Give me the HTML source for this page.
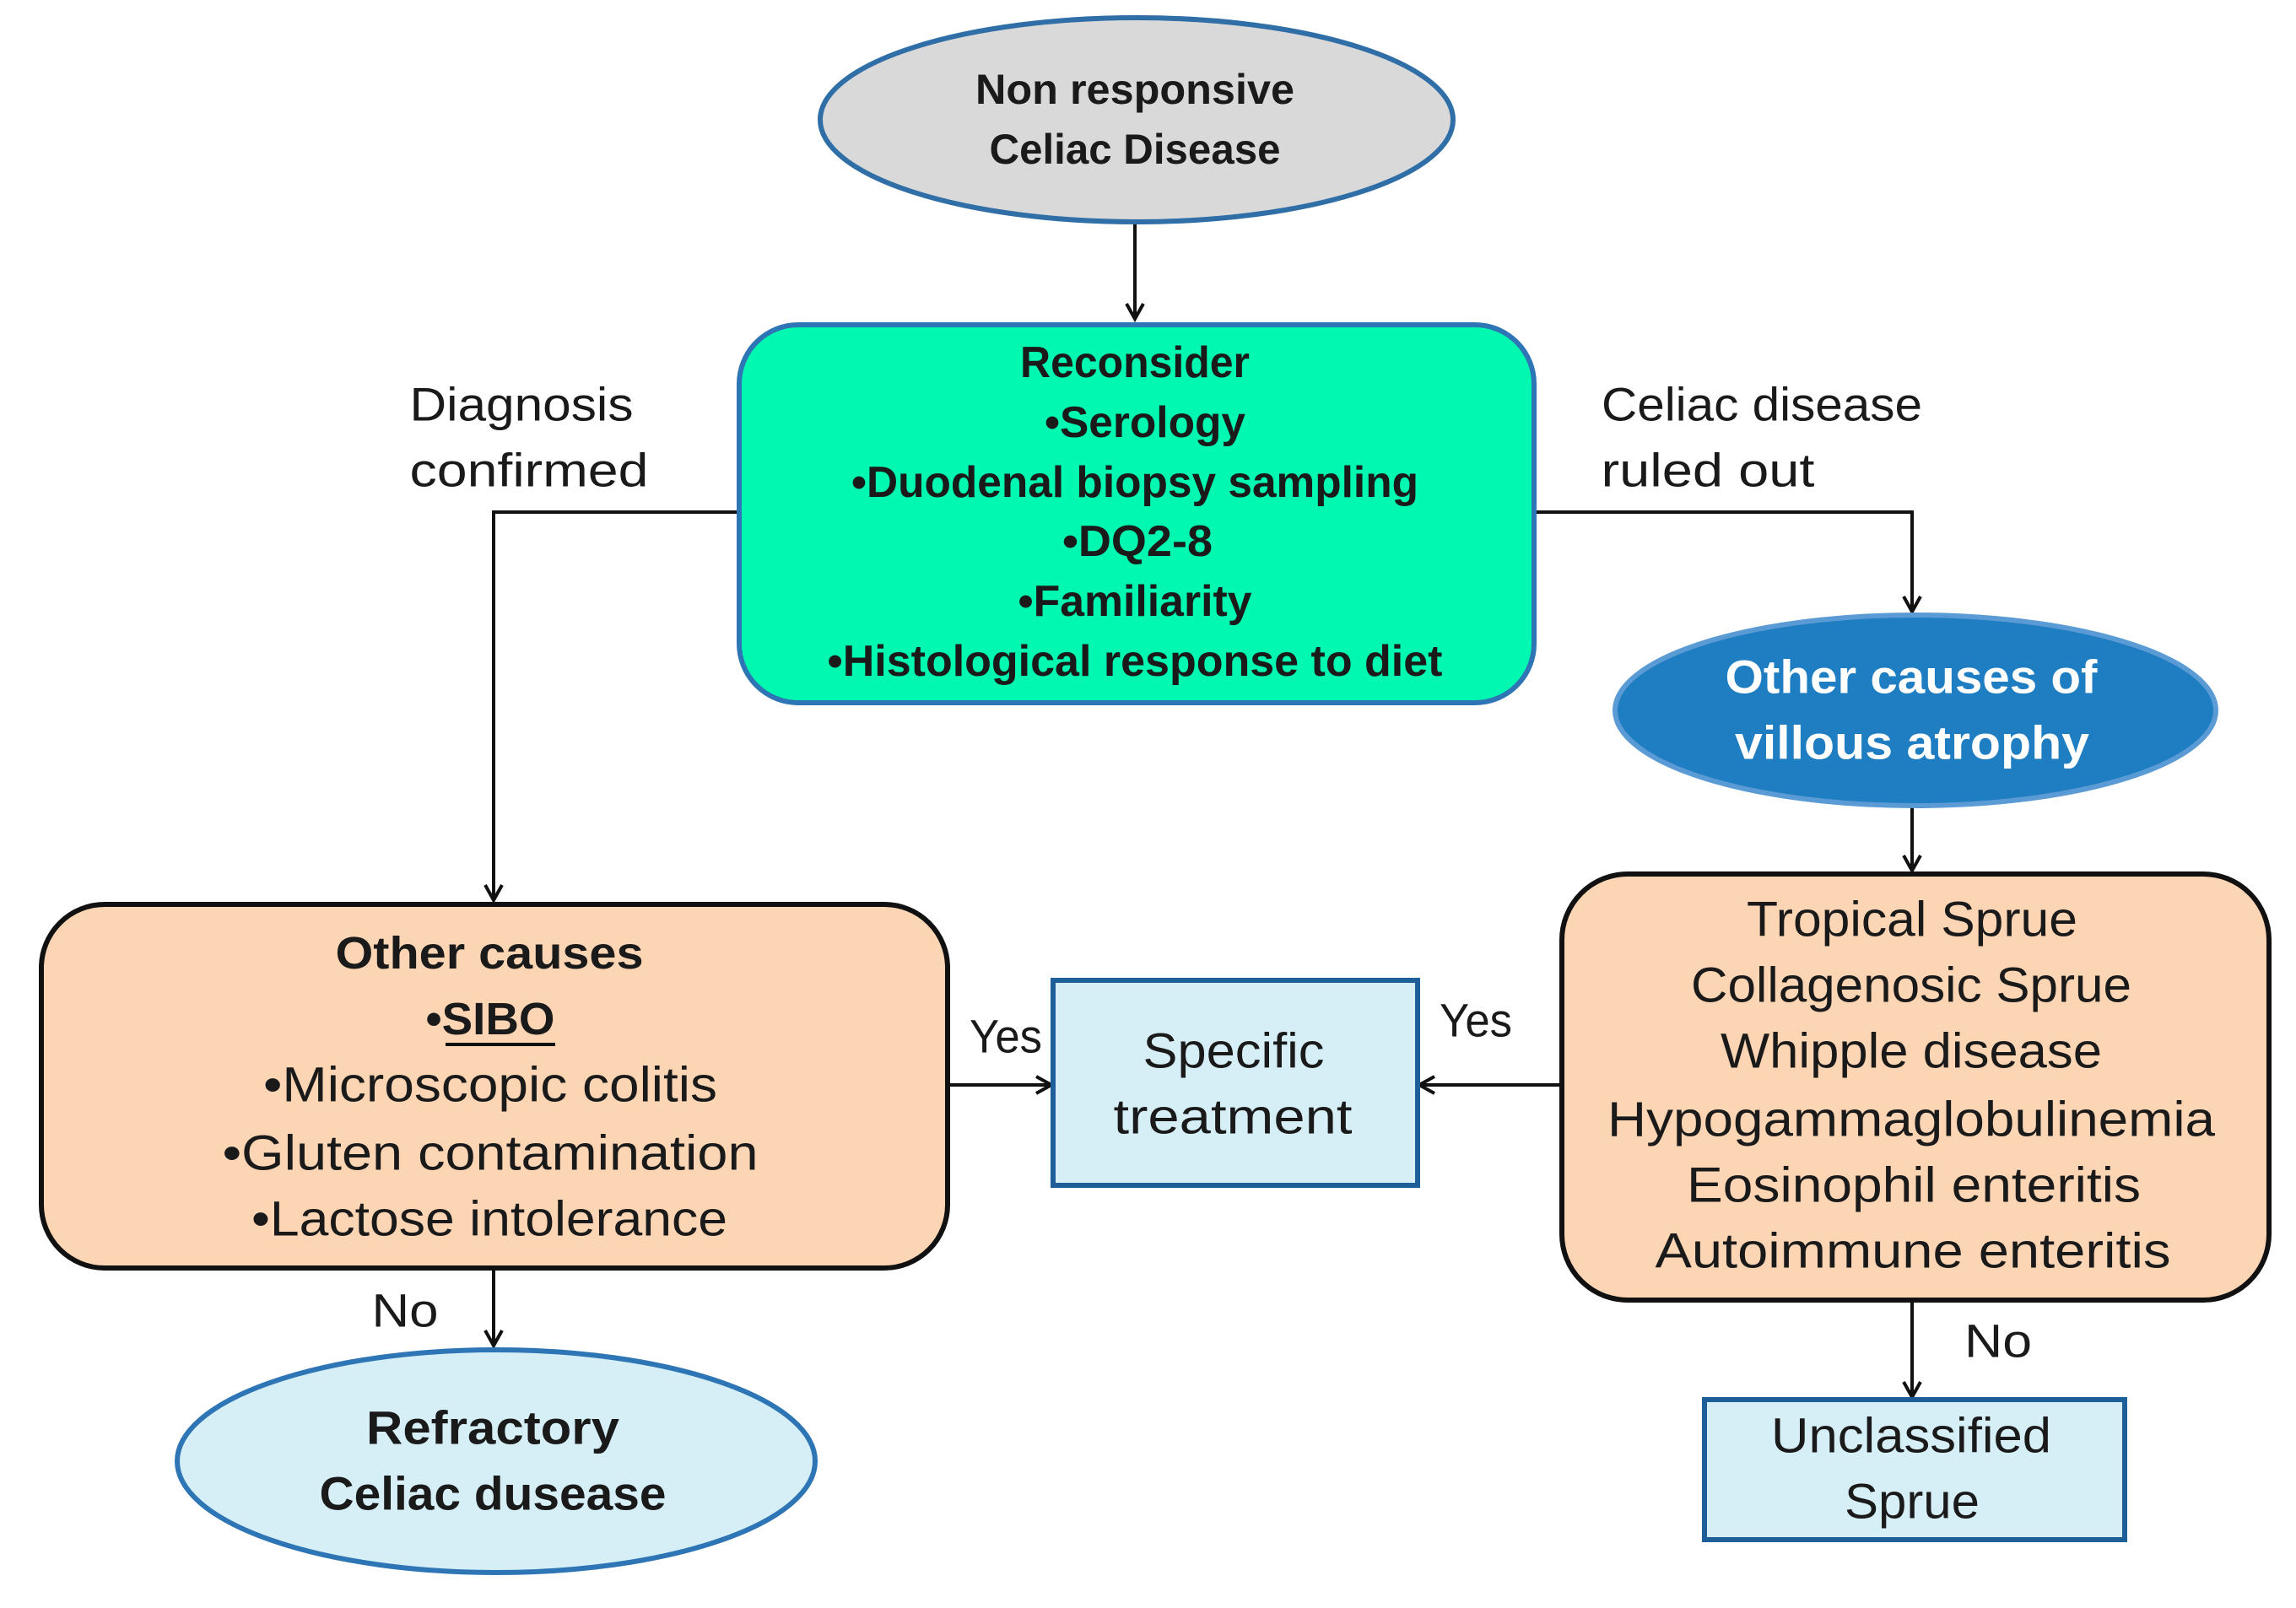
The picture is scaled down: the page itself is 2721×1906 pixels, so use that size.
<!DOCTYPE html>
<html><head><meta charset="utf-8"><style>
html,body{margin:0;padding:0;background:#fff;}
svg{display:block;}
text{font-family:"Liberation Sans",sans-serif;dominant-baseline:central;text-anchor:middle;fill:#1a1a1a;}
.b{font-weight:bold;}
</style></head><body>
<svg width="2721" height="1906" viewBox="0 0 2721 1906" xmlns="http://www.w3.org/2000/svg">
<defs>
<marker id="ah" markerWidth="30" markerHeight="30" refX="20" refY="12" orient="auto" markerUnits="userSpaceOnUse">
<path d="M2,2 L20,12 L2,22" fill="none" stroke="#111" stroke-width="4"/>
</marker>
</defs>
<!-- connectors -->
<g stroke="#111" stroke-width="4" fill="none">
<line x1="1345" y1="264" x2="1345" y2="378" marker-end="url(#ah)"/>
<polyline points="876,607 585,607 585,1067" marker-end="url(#ah)"/>
<polyline points="1818,607 2266,607 2266,725" marker-end="url(#ah)"/>
<line x1="2266" y1="954" x2="2266" y2="1032" marker-end="url(#ah)"/>
<line x1="1123" y1="1286" x2="1246" y2="1286" marker-end="url(#ah)"/>
<line x1="1851" y1="1286" x2="1682" y2="1286" marker-end="url(#ah)"/>
<line x1="585" y1="1503" x2="585" y2="1595" marker-end="url(#ah)"/>
<line x1="2266" y1="1541" x2="2266" y2="1656" marker-end="url(#ah)"/>
</g>
<!-- top ellipse -->
<ellipse cx="1347" cy="142" rx="375" ry="121" fill="#d9d9d9" stroke="#2f6ea6" stroke-width="6"/>
<text class="b" x="1345" y="106" font-size="50" textLength="378" lengthAdjust="spacingAndGlyphs">Non responsive</text>
<text class="b" x="1345" y="177" font-size="50" textLength="345" lengthAdjust="spacingAndGlyphs">Celiac Disease</text>
<!-- green box -->
<rect x="876" y="385" width="942" height="448" rx="70" fill="#00f8b0" stroke="#2e75b6" stroke-width="6"/>
<text class="b" x="1345" y="430" font-size="52" textLength="272" lengthAdjust="spacingAndGlyphs">Reconsider</text>
<text class="b" x="1357" y="501" font-size="52" textLength="238" lengthAdjust="spacingAndGlyphs">•Serology</text>
<text class="b" x="1345" y="572" font-size="52" textLength="672" lengthAdjust="spacingAndGlyphs">•Duodenal biopsy sampling</text>
<text class="b" x="1348" y="642" font-size="52" textLength="178" lengthAdjust="spacingAndGlyphs">•DQ2-8</text>
<text class="b" x="1345" y="713" font-size="52" textLength="277" lengthAdjust="spacingAndGlyphs">•Familiarity</text>
<text class="b" x="1345" y="784" font-size="52" textLength="729" lengthAdjust="spacingAndGlyphs">•Histological response to diet</text>
<!-- side labels -->
<text x="618" y="479" font-size="56" textLength="265" lengthAdjust="spacingAndGlyphs">Diagnosis</text>
<text x="627" y="557" font-size="56" textLength="283" lengthAdjust="spacingAndGlyphs">confirmed</text>
<text x="2088" y="479" font-size="56" textLength="380" lengthAdjust="spacingAndGlyphs">Celiac disease</text>
<text x="2024" y="557" font-size="56" textLength="253" lengthAdjust="spacingAndGlyphs">ruled out</text>
<!-- blue ellipse -->
<ellipse cx="2270" cy="842" rx="356" ry="113" fill="#1f7dc1" stroke="#5b9bd5" stroke-width="6"/>
<text class="b" x="2265" y="802" font-size="56" fill="#fff" style="fill:#fff" textLength="441" lengthAdjust="spacingAndGlyphs">Other causes of</text>
<text class="b" x="2266" y="880" font-size="56" style="fill:#fff" textLength="420" lengthAdjust="spacingAndGlyphs">villous atrophy</text>
<!-- right peach box -->
<rect x="1851" y="1036" width="838" height="505" rx="78" fill="#fcd5b4" stroke="#111" stroke-width="6"/>
<text x="2266" y="1090" font-size="58" textLength="392" lengthAdjust="spacingAndGlyphs">Tropical Sprue</text>
<text x="2265" y="1168" font-size="58" textLength="522" lengthAdjust="spacingAndGlyphs">Collagenosic Sprue</text>
<text x="2265" y="1246" font-size="58" textLength="452" lengthAdjust="spacingAndGlyphs">Whipple disease</text>
<text x="2265" y="1327" font-size="58" textLength="720" lengthAdjust="spacingAndGlyphs">Hypogammaglobulinemia</text>
<text x="2268" y="1405" font-size="58" textLength="538" lengthAdjust="spacingAndGlyphs">Eosinophil enteritis</text>
<text x="2267" y="1483" font-size="58" textLength="611" lengthAdjust="spacingAndGlyphs">Autoimmune enteritis</text>
<!-- left peach box -->
<rect x="49" y="1072" width="1074" height="431" rx="75" fill="#fcd5b4" stroke="#111" stroke-width="6"/>
<text class="b" x="580" y="1130" font-size="54" textLength="365" lengthAdjust="spacingAndGlyphs">Other causes</text>
<text class="b" x="581" y="1208" font-size="54" textLength="153" lengthAdjust="spacingAndGlyphs">•SIBO</text>
<line x1="528" y1="1238" x2="658" y2="1238" stroke="#111" stroke-width="4"/>
<text x="581" y="1286" font-size="58" textLength="538" lengthAdjust="spacingAndGlyphs">•Microscopic colitis</text>
<text x="581" y="1367" font-size="58" textLength="635" lengthAdjust="spacingAndGlyphs">•Gluten contamination</text>
<text x="580" y="1445" font-size="58" textLength="564" lengthAdjust="spacingAndGlyphs">•Lactose intolerance</text>
<!-- specific treatment -->
<rect x="1248" y="1162" width="432" height="243" fill="#d6eef6" stroke="#1f5f99" stroke-width="6"/>
<text x="1462" y="1246" font-size="58" textLength="215" lengthAdjust="spacingAndGlyphs">Specific</text>
<text x="1461" y="1324" font-size="58" textLength="283" lengthAdjust="spacingAndGlyphs">treatment</text>
<text x="1192" y="1228" font-size="56" textLength="86" lengthAdjust="spacingAndGlyphs">Yes</text>
<text x="1749" y="1209" font-size="56" textLength="86" lengthAdjust="spacingAndGlyphs">Yes</text>
<text x="480" y="1553" font-size="56" textLength="79" lengthAdjust="spacingAndGlyphs">No</text>
<text x="2368" y="1589" font-size="56" textLength="80" lengthAdjust="spacingAndGlyphs">No</text>
<!-- refractory -->
<ellipse cx="588" cy="1732" rx="378" ry="132" fill="#d6eef6" stroke="#2e75b6" stroke-width="6"/>
<text class="b" x="584" y="1692" font-size="56" textLength="300" lengthAdjust="spacingAndGlyphs">Refractory</text>
<text class="b" x="584" y="1770" font-size="56" textLength="411" lengthAdjust="spacingAndGlyphs">Celiac dusease</text>
<!-- unclassified -->
<rect x="2020" y="1659" width="498" height="166" fill="#d6eef6" stroke="#1f5f99" stroke-width="6"/>
<text x="2265" y="1702" font-size="58" textLength="332" lengthAdjust="spacingAndGlyphs">Unclassified</text>
<text x="2266" y="1780" font-size="58" textLength="160" lengthAdjust="spacingAndGlyphs">Sprue</text>
</svg>
</body></html>
